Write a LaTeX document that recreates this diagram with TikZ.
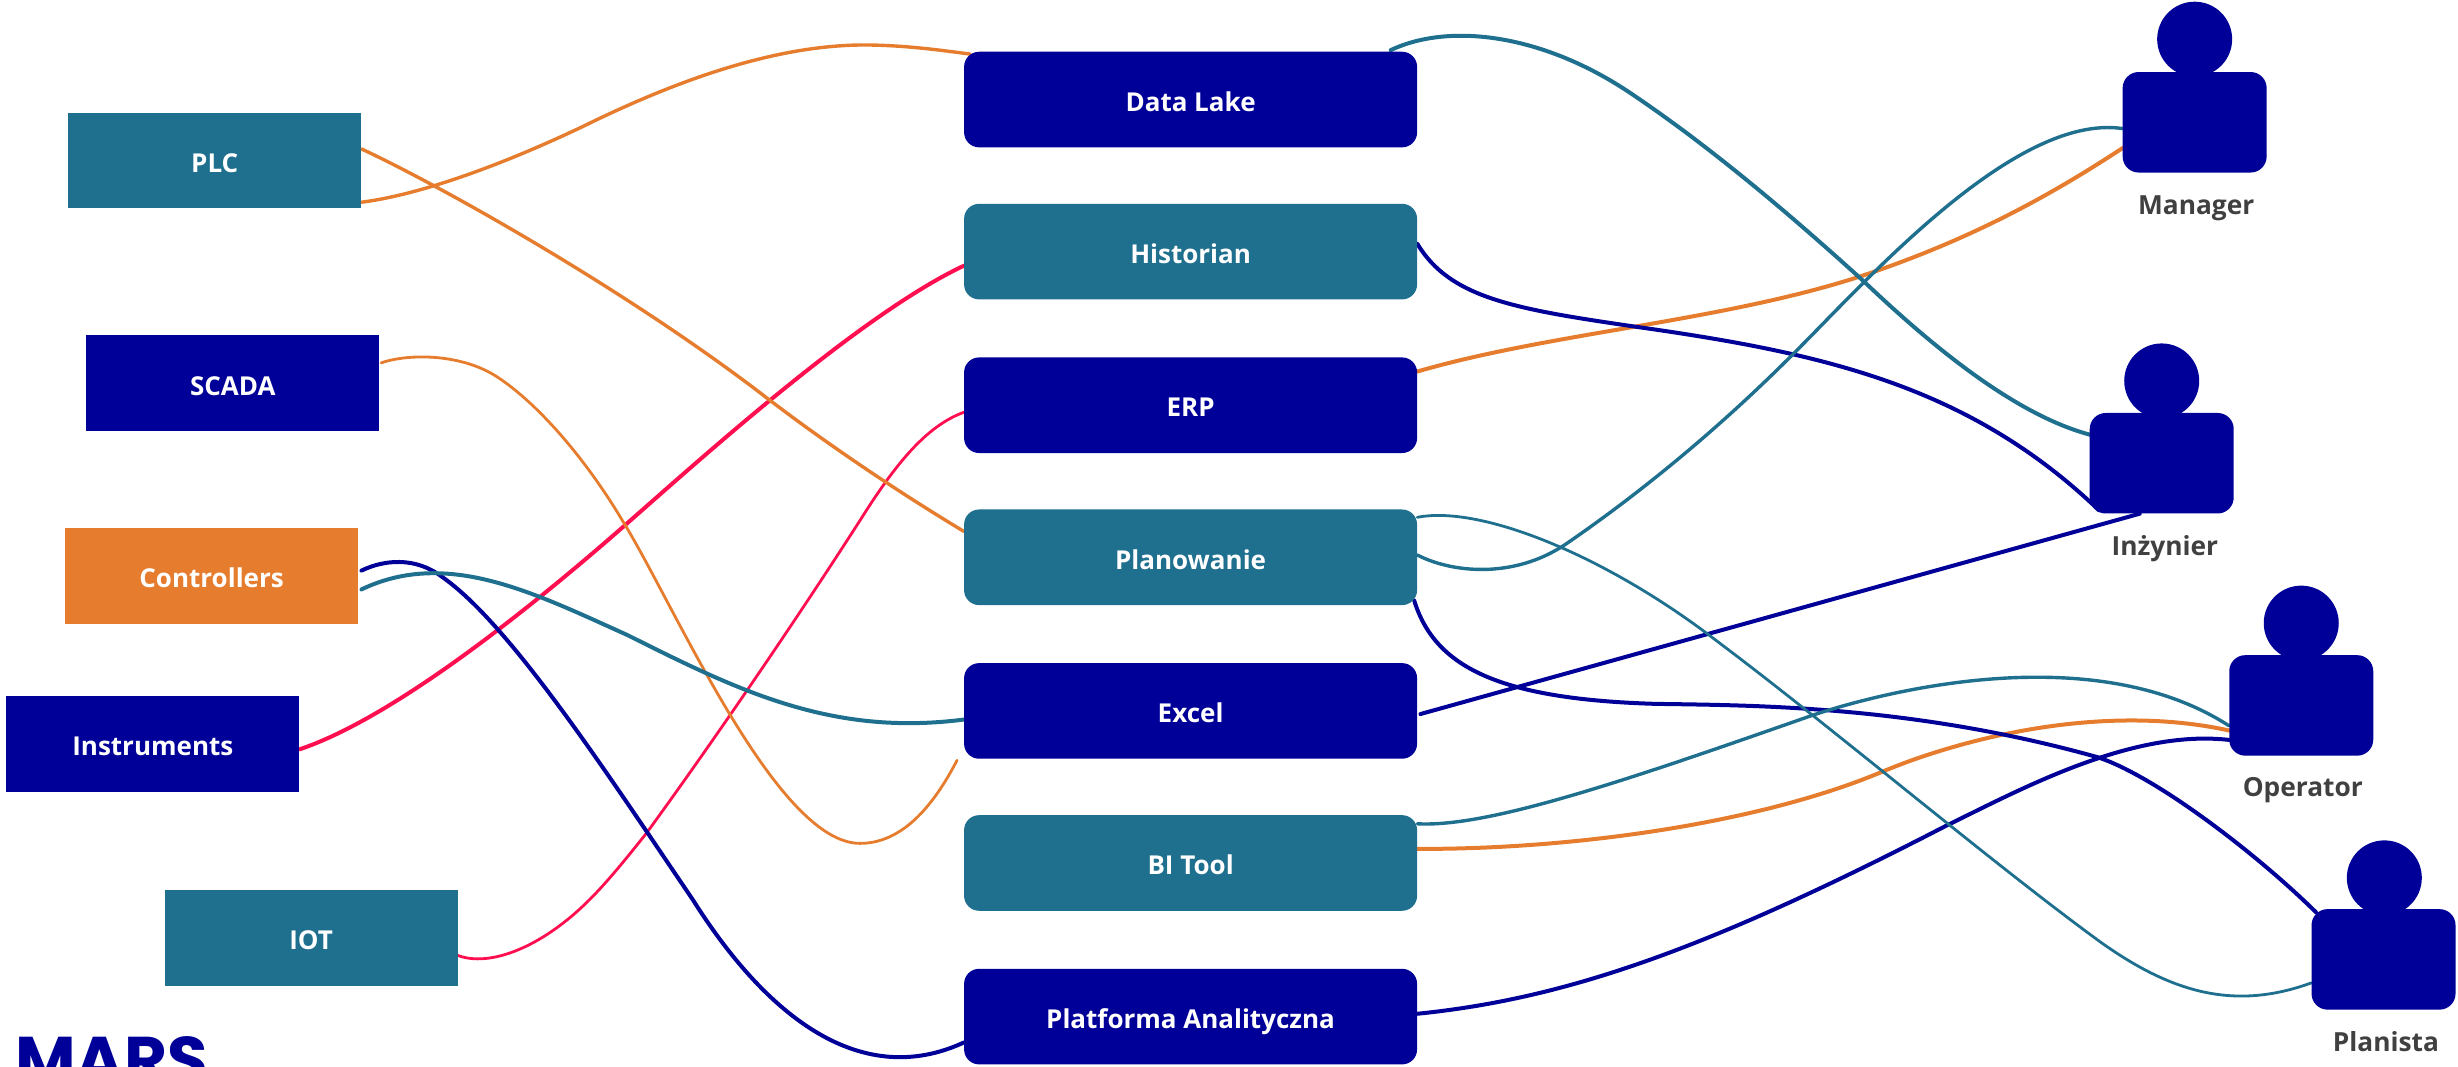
\documentclass[tikz,border=0pt]{standalone}
\usepackage{fontspec}
\setmainfont{Open Sans}
\newfontfamily\logofont{Poppins}
\usetikzlibrary{backgrounds}
\definecolor{navy}{HTML}{000099}
\definecolor{teal2}{HTML}{1F6F8F}
\definecolor{orange2}{HTML}{E67C2D}
\definecolor{red2}{HTML}{FF0F50}
\definecolor{labelgray}{HTML}{404040}
\tikzset{
  x=1.5676pt,y=-1.5676pt,
  txt/.style={text=white,font=\fontsize{26}{30}\selectfont\bfseries,inner sep=0pt,align=center,text height=23.5pt,text depth=0pt},
  srcbox/.style={txt,rectangle,minimum width=293pt,minimum height=95.6pt},
  midbox/.style={txt,rectangle,rounded corners=15pt,minimum width=453pt,minimum height=95.6pt},
  body/.style={rectangle,rounded corners=16pt,fill=navy,minimum width=144pt,minimum height=100.5pt,inner sep=0pt},
  head/.style={circle,fill=navy,minimum size=75pt,inner sep=0pt},
  who/.style={text=labelgray,font=\fontsize{26.3}{30}\selectfont\bfseries,inner sep=0pt,text height=23.5pt,text depth=0pt},
  lk/.style={line cap=round,line width=4pt},
  lkmid/.style={line cap=round,line width=3.4pt},
  lkthin/.style={line cap=round,line width=2.8pt},
}
\begin{document}
\begin{tikzpicture}
\useasboundingbox (0pt,0pt) rectangle (2458pt,-1066pt);
% sources
\node[srcbox,fill=teal2] (plc) at (137,102.5) {PLC};
\node[srcbox,fill=navy] (scada) at (148.5,244.5) {SCADA};
\node[srcbox,fill=orange2] (ctrl) at (135,367.5) {Controllers};
\node[srcbox,fill=navy] (instr) at (97.5,474.5) {Instruments};
\node[srcbox,fill=teal2] (iot) at (198.5,598.5) {IOT};
% middle
\node[midbox,fill=navy] (dl) at (759.5,63.5) {Data Lake};
\node[midbox,fill=teal2] (hist) at (759.5,160.5) {Historian};
\node[midbox,fill=navy] (erp) at (759.5,258.5) {ERP};
\node[midbox,fill=teal2] (plan) at (759.5,355.5) {Planowanie};
\node[midbox,fill=navy] (xls) at (759.5,453.5) {Excel};
\node[midbox,fill=teal2] (bi) at (759.5,550.5) {BI Tool};
\node[midbox,fill=navy] (pa) at (759.5,648.5) {Platforma Analityczna};
% people
\node[head] (mgrh) at (1400,25) {};
\node[body] (mgr) at (1400,78) {};
\node[who] (mgrl) at (1401,129.3) {Manager};
\node[head] (inzh) at (1379,243) {};
\node[body] (inz) at (1379,295.5) {};
\node[who] (inzl) at (1381,346.6) {Inżynier};
\node[head] (oph) at (1468,397.5) {};
\node[body] (op) at (1468,450) {};
\node[who] (opl) at (1469,500.3) {Operator};
\node[head] (plnh) at (1521,560) {};
\node[body] (pln) at (1520.5,612) {};
\node[who] (plnl) at (1522,663.3) {Planista};
% logo
\begin{scope}
\clip (0pt,0pt) rectangle (2458pt,-1066pt);
\node[text=navy,font=\logofont\fontsize{66}{70}\selectfont\bfseries,inner sep=0pt,anchor=base west] (logo) at (9.5,691) {MARS};
\end{scope}
\coordinate (scadaend) at (610.5,485);
\begin{scope}[on background layer]
% red
\draw[lk,red2] ([shift={(0,3.5)}]instr.east) .. controls (245,460) and (325,400) .. (402.5,331.7) .. controls (450,290) and (550,200) .. ([shift={(0,9)}]hist.west);
\draw[lkthin,red2] ([shift={(0,11)}]iot.east) .. controls (312,617) and (345,605) .. (376,574) .. controls (388,562) and (400,547) .. (412,532) .. controls (450,480) and (505,400) .. (548.8,331.7) .. controls (570,298) and (590,272) .. ([shift={(0,4.5)}]erp.west);
% orange
\draw[lkmid,orange2] ([shift={(0,26.5)}]plc.east) .. controls (262,125) and (310,110) .. (371.6,80.8) .. controls (430,52) and (495,28) .. (554,28.7) .. controls (578,29) and (600,32) .. ([shift={(4,-29)}]dl.west);
\draw[lkmid,orange2] ([shift={(0,-7.5)}]plc.east) .. controls (280,118) and (400,185) .. (490,254.5) .. controls (530,285) and (575,315) .. ([shift={(0,-16.5)}]plan.west);
\draw[lkthin,orange2] ([shift={(1,-13)}]scada.east) .. controls (262,225) and (296,226) .. (318,241) .. controls (345,259) and (375,295) .. (397,332) .. controls (430,385) and (495,538) .. (548.6,538) .. controls (575,538) and (595,515) .. (scadaend);
\draw[lk,orange2] ([shift={(0,-21.5)}]erp.east) .. controls (990,212) and (1100,205) .. (1189.5,175.4) .. controls (1250,155) and (1300,130) .. ([shift={(0,16.5)}]mgr.west);
\draw[lk,orange2] ([shift={(0,-9)}]bi.east) .. controls (1000,542) and (1120,526) .. (1200,492.6) .. controls (1250,471.5) and (1340,448) .. ([shift={(0,16)}]op.west);
% navy
\draw[lk,navy] ([shift={(2,-3.5)}]ctrl.east) .. controls (245,357) and (265,355) .. (282,368) .. controls (325,398) and (385,490) .. (442,574) .. controls (490,650) and (550,695) .. ([shift={(0,16.5)}]pa.west);
\draw[lk,navy] ([shift={(0,-5)}]hist.east) .. controls (925,190) and (965,197) .. (1044,208.5) .. controls (1160,225) and (1255,245) .. ([shift={(6,30)}]inz.west);
\draw[lk,navy] ([shift={(-2,27.5)}]plan.east) .. controls (915,425) and (955,446) .. (1056,449) .. controls (1120,450) and (1220,450) .. (1338,483) .. controls (1375,495) and (1440,545) .. ([shift={(3,-30)}]pln.west);
\draw[lk,navy] ([shift={(2,2)}]xls.east) -- ([shift={(-14,0)}]inz.south);
\draw[lk,navy] ([shift={(0,-1.8)}]pa.east) .. controls (1000,637) and (1090,605) .. (1241,527) .. controls (1290,503) and (1360,465) .. ([shift={(0,22)}]op.west);
% teal
\draw[lk,teal2] ([shift={(2,8.5)}]ctrl.east) .. controls (285,350) and (340,378) .. (400,405) .. controls (470,440) and (530,470) .. ([shift={(0,5.5)}]xls.west);
\draw[lk,teal2] ([shift={(-17,-31.5)}]dl.east) .. controls (925,14) and (985,22) .. (1041,60) .. controls (1090,93) and (1140,135) .. (1189.5,180) .. controls (1240,228) and (1290,266) .. ([shift={(1,-18)}]inz.west);
\draw[lkmid,teal2] ([shift={(0,-1.5)}]plan.east) .. controls (925,365) and (965,370) .. (999,347) .. controls (1050,312) and (1100,270) .. (1144.7,225) .. controls (1190,180) and (1285,72) .. ([shift={(0,4)}]mgr.west);
\draw[lkthin,teal2] ([shift={(0,-25.5)}]plan.east) .. controls (945,322) and (1025,355) .. (1094,408) .. controls (1170,465) and (1270,550) .. (1340,601) .. controls (1385,633) and (1425,645) .. ([shift={(0,15)}]pln.west);
\draw[lkmid,teal2] ([shift={(0,-25)}]bi.east) .. controls (950,528) and (1040,497) .. (1157,456) .. controls (1215,437) and (1340,410) .. ([shift={(0,13)}]op.west);
\end{scope}
\end{tikzpicture}
\end{document}
